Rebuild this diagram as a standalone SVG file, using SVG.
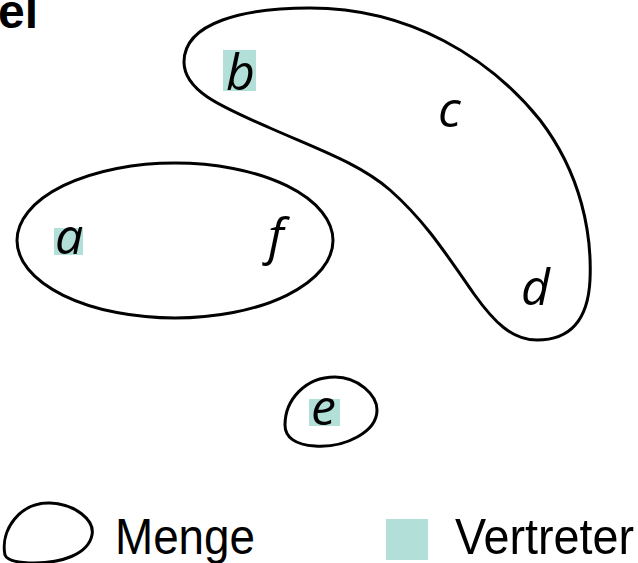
<svg xmlns="http://www.w3.org/2000/svg" width="638" height="563" viewBox="0 0 638 563">
  <style>
    .set { fill: none; stroke: #000; stroke-width: 3; }
    .rep { fill: #b3dfd9; }
    .elem { font-family: "Open Sans", "DejaVu Sans", sans-serif; font-style: italic; font-size: 50px; fill: #000; }
    .legend { font-family: "Liberation Sans", Arial, sans-serif; font-size: 50px; fill: #000; }
    .title { font-family: "Liberation Sans", Arial, sans-serif; font-weight: bold; font-size: 48px; fill: #000; }
  </style>
  <rect width="638" height="563" fill="#fff"/>

  <text class="title" x="38" y="28" text-anchor="end">Beispiel</text>

  <!-- set {b, c, d} -->
  <g id="set-bcd">
    <path class="set" d="M 184,62 C 184,22 245,8 310,8 C 410,8 490,58 540,120 C 582,175 592,235 590,280 C 588,320 570,340 537,340 C 512,340 494,322 474,294 C 446,254 426,222 390,190 C 360,164 320,150 270,128 C 225,108 184,92 184,62 Z"/>
    <rect class="rep" x="223" y="50" width="33" height="41"/>
    <text class="elem" x="226" y="90">b</text>
    <text class="elem" x="438" y="127">c</text>
    <text class="elem" x="521" y="305">d</text>
  </g>

  <!-- set {a, f} -->
  <g id="set-af">
    <ellipse class="set" cx="175" cy="240.5" rx="158" ry="77.5"/>
    <rect class="rep" x="54" y="228" width="29" height="27"/>
    <text class="elem" x="55" y="254">a</text>
    <text class="elem" x="268" y="254">f</text>
  </g>

  <!-- set {e} -->
  <g id="set-e">
    <path class="set" d="M 285,425 C 285,400 305,377 335,377 C 358,377 377,395 377,410 C 377,432 345,448 315,446 C 295,445 285,437 285,425 Z"/>
    <rect class="rep" x="309" y="399" width="31" height="27"/>
    <text class="elem" x="311" y="425">e</text>
  </g>

  <!-- legend -->
  <g id="legend-set">
    <path class="set" d="M 5,555 C 0,530 20,502 50,503 C 75,504 95,520 92,535 C 88,555 60,563 35,563 C 15,563 7,560 5,555 Z"/>
    <text class="legend" x="115" y="554" textLength="140" lengthAdjust="spacingAndGlyphs">Menge</text>
  </g>
  <g id="legend-rep">
    <rect class="rep" x="386" y="519" width="42" height="41"/>
    <text class="legend" x="455" y="554" textLength="179" lengthAdjust="spacingAndGlyphs">Vertreter</text>
  </g>
</svg>
